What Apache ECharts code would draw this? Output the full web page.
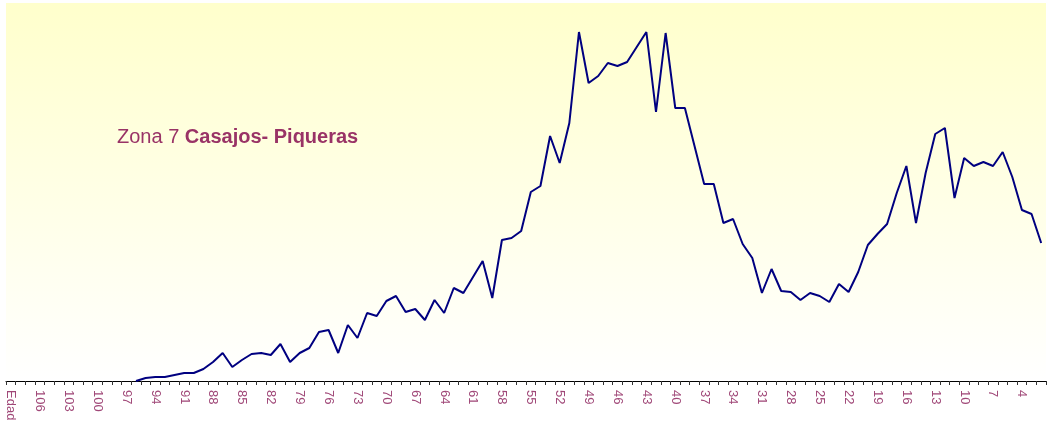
<!DOCTYPE html>
<html>
<head>
<meta charset="utf-8">
<script src="https://cdn.jsdelivr.net/npm/echarts@6/dist/echarts.min.js"></script>
<style>
  html, body { margin: 0; padding: 0; background: #fff; }
  #chart { width: 1047px; height: 426px; }
</style>
</head>
<body>
<div id="chart"></div>
<script>
// edades de 108 a 2 (primera categoria es la cabecera "Edad")
var ages = [];
for (var a = 108; a >= 2; a--) ages.push(String(a));
var categories = ["Edad"].concat(ages);

// valores, de 96 a 2 anos (antes no hay datos)
var emptyAges = 13; // Edad + 108..97
var values = [
  0, 3, 4, 4, 6, 8, 8, 12, 19, 28,          // 96-87
  14, 21, 27, 28, 26, 37, 19, 28, 33, 49,   // 86-77
  51, 28, 56, 43, 68, 65, 80, 85, 69, 72,   // 76-67
  61, 81, 68, 93, 88, 104, 120, 83, 141, 143, // 66-57
  150, 189, 195, 245, 218, 258, 349, 298, 305, 318, // 56-47
  315, 319, 334, 349, 269, 348, 273, 273, 235, 197, // 46-37
  197, 158, 162, 137, 123, 88, 112, 90, 89, 81,     // 36-27
  88, 85, 79, 97, 89, 109, 136, 147, 157, 188,      // 26-17
  215, 158, 208, 247, 253, 183, 223, 215, 219, 215, // 16-7
  229, 204, 171, 167, 138                           // 6-2
];

var seriesData = [];
for (var i = 0; i < emptyAges; i++) seriesData.push(null);
seriesData = seriesData.concat(values);

var titleNormal = "Zona 7 ";
var titleBold = "Casajos- Piqueras";

var myChart = echarts.init(document.getElementById("chart"), null, { renderer: "canvas" });
var option = {
  animation: false,
  title: {
    text: "{a|" + titleNormal + "}{b|" + titleBold + "}",
    left: 117,
    top: 127,
    padding: 0,
    textStyle: {
      fontWeight: "normal",
      rich: {
        a: { fontFamily: "Liberation Sans, Arial", fontSize: 20, fontWeight: "normal", color: "#993366" },
        b: { fontFamily: "Liberation Sans, Arial", fontSize: 20, fontWeight: "bold", color: "#993366" }
      }
    }
  },
  grid: {
    left: 6,
    right: 1,
    top: 3,
    bottom: 45,
    show: true,
    borderWidth: 0,
    backgroundColor: new echarts.graphic.LinearGradient(0, 0, 0, 1, [
      { offset: 0, color: "#ffffcc" },
      { offset: 1, color: "#ffffff" }
    ])
  },
  xAxis: {
    type: "category",
    data: categories,
    boundaryGap: true,
    axisLine: { lineStyle: { color: "#000", width: 1 } },
    axisTick: { show: true, length: 4, interval: 0, lineStyle: { color: "#333" } },
    axisLabel: {
      interval: 2,
      rotate: -90,
      margin: 9,
      color: "#a04878",
      fontFamily: "Liberation Sans, Arial",
      fontSize: 13
    },
    splitLine: { show: false }
  },
  yAxis: {
    type: "value",
    min: 0,
    max: 378,
    show: false
  },
  series: [
    {
      type: "line",
      data: seriesData,
      symbol: "none",
      clip: false,
      lineStyle: { color: "#000080", width: 2 }
    }
  ]
};
myChart.setOption(option);
</script>
</body>
</html>
